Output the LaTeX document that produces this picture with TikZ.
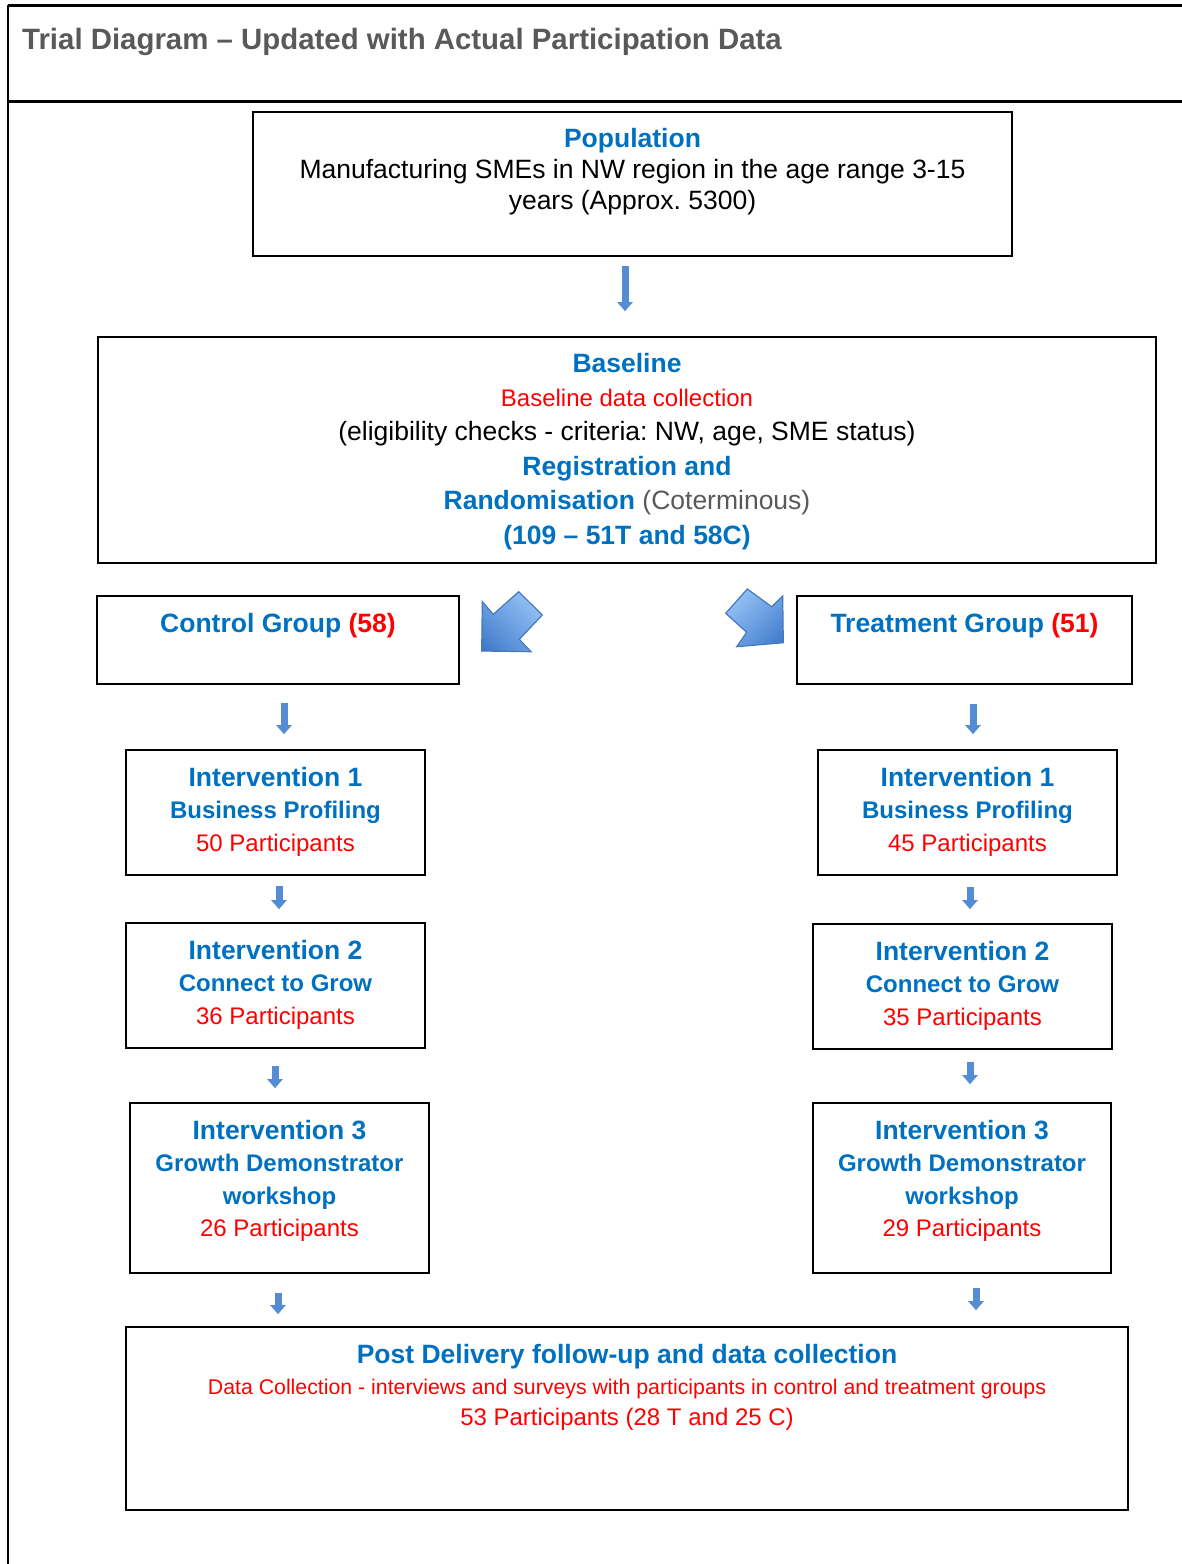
\documentclass[tikz,border=0pt]{standalone}
\usepackage{fontspec}
\setmainfont{Liberation Sans}
\usetikzlibrary{arrows.meta,positioning,shadings}
\frenchspacing
\definecolor{tblue}{RGB}{0,112,192}
\definecolor{tred}{RGB}{255,0,0}
\definecolor{tgray}{RGB}{89,89,89}
\definecolor{arrblue}{RGB}{84,141,212}
\definecolor{arrline}{RGB}{70,120,190}
\definecolor{arrlight}{RGB}{165,204,250}
\definecolor{arrmid}{RGB}{112,165,230}
\definecolor{arrdark}{RGB}{58,118,198}
\newcommand{\bluebf}[1]{{\bfseries\color{tblue}#1}}
\newcommand{\bluesub}[1]{{\fontsize{24}{24}\selectfont\bfseries\color{tblue}#1}}
\newcommand{\redtxt}[1]{{\fontsize{24}{24}\selectfont\color{tred}#1}}
\newcommand{\redsmall}[1]{{\fontsize{21.3}{21.3}\selectfont\color{tred}#1}}
\tikzset{
  box/.style={draw,line width=1.6pt,inner sep=0pt},
  boxtxt/.style={align=center,inner sep=0pt,font=\fontsize{26.5}{32.5}\selectfont},
  sarr/.style={draw=arrblue,line width=7pt,-{Triangle[width=15pt,length=9pt]}},
  bigarr/.style={draw=arrline,line width=1.2pt},
}
\begin{document}
\begin{tikzpicture}[x=1pt,y=-1pt]
  \useasboundingbox (0,0) rectangle (1182,1564);

  % frame and header
  \draw[line width=3pt] (8,5) -- (1182,5);
  \draw[line width=3pt] (8,101) -- (1182,101);
  \draw[line width=2.5pt] (8,5) -- (8,1564);
  \node[anchor=base west,inner sep=0pt,text=tgray,font=\fontsize{29.4}{34}\selectfont\bfseries] (title) at (22,49.5)
    {Trial Diagram \textendash{} Updated with Actual Participation Data};

  % population
  \node[box,minimum width=759pt,minimum height=144pt] (pop) at (632.5,184) {};
  \node[boxtxt,font=\fontsize{26.5}{31}\selectfont,below=16.5pt of pop.north] (popT)
    {\bluebf{Population}\\Manufacturing SMEs in NW region in the age range 3-15\\years (Approx. 5300)};

  % baseline
  \node[box,minimum width=1058pt,minimum height=226pt] (base) at (627,450) {};
  \node[boxtxt,font=\fontsize{26.5}{34.4}\selectfont,below=16.5pt of base.north] (baseT)
    {\bluebf{Baseline}\\\redtxt{Baseline data collection}\\(eligibility checks - criteria: NW, age, SME status)\\
     \bluebf{Registration and}\\\bluebf{Randomisation} {\color{tgray}(Coterminous)}\\\bluebf{(109 \textendash{} 51T and 58C)}};

  % groups
  \node[box,minimum width=362pt,minimum height=88pt] (ctl) at (278,640) {};
  \node[boxtxt,below=17.5pt of ctl.north] (ctlT) {\bluebf{Control Group} {\bfseries\color{tred}(58)}};
  \node[box,minimum width=335pt,minimum height=88pt] (trt) at (964.5,640) {};
  \node[boxtxt,below=17.5pt of trt.north] (trtT) {\bluebf{Treatment Group} {\bfseries\color{tred}(51)}};

  % split arrows
  \shadedraw[bigarr,upper right=arrlight,lower left=arrdark,upper left=arrmid,lower right=arrmid]
    (481.7,651) -- (482.3,601.7) -- (493.3,614.3) -- (518.7,591.7) -- (542.3,615)
    -- (519.3,639.3) -- (531,651.7) -- cycle;
  \shadedraw[bigarr,upper left=arrlight,lower right=arrdark,upper right=arrmid,lower left=arrmid]
    (783.3,642.7) -- (736.7,646.7) -- (746.7,632.3) -- (725.7,613.3) -- (747.3,589)
    -- (771.7,606.7) -- (782.7,596) -- cycle;

  % intervention 1
  \node[box,minimum width=299pt,minimum height=125pt] (ic1) at (275.5,812.5) {};
  \node[boxtxt,below=17.5pt of ic1.north] (ic1T)
    {\bluebf{Intervention 1}\\\bluesub{Business Profiling}\\\redtxt{50 Participants}};
  \node[box,minimum width=299pt,minimum height=125pt] (it1) at (967.5,812.5) {};
  \node[boxtxt,below=17.5pt of it1.north] (it1T)
    {\bluebf{Intervention 1}\\\bluesub{Business Profiling}\\\redtxt{45 Participants}};

  % intervention 2
  \node[box,minimum width=299pt,minimum height=125pt] (ic2) at (275.5,985.5) {};
  \node[boxtxt,below=17.5pt of ic2.north] (ic2T)
    {\bluebf{Intervention 2}\\\bluesub{Connect to Grow}\\\redtxt{36 Participants}};
  \node[box,minimum width=299pt,minimum height=125pt] (it2) at (962.5,986.5) {};
  \node[boxtxt,below=17.5pt of it2.north] (it2T)
    {\bluebf{Intervention 2}\\\bluesub{Connect to Grow}\\\redtxt{35 Participants}};

  % intervention 3
  \node[box,minimum width=299pt,minimum height=170pt] (ic3) at (279.5,1188) {};
  \node[boxtxt,below=17.5pt of ic3.north] (ic3T)
    {\bluebf{Intervention 3}\\\bluesub{Growth Demonstrator}\\\bluesub{workshop}\\\redtxt{26 Participants}};
  \node[box,minimum width=298pt,minimum height=170pt] (it3) at (962,1188) {};
  \node[boxtxt,below=17.5pt of it3.north] (it3T)
    {\bluebf{Intervention 3}\\\bluesub{Growth Demonstrator}\\\bluesub{workshop}\\\redtxt{29 Participants}};

  % follow-up
  \node[box,minimum width=1002pt,minimum height=183pt] (post) at (627,1418.5) {};
  \node[boxtxt,font=\fontsize{26.5}{31}\selectfont,below=17.5pt of post.north] (postT)
    {\bluebf{Post Delivery follow-up and data collection}\\
     \redsmall{Data Collection - interviews and surveys with participants in control and treatment groups}\\
     \redtxt{53 Participants (28 T and 25 C)}};

  % small arrows
  \draw[sarr] ([xshift=-7.5pt,yshift=-9pt]pop.south) -- ([xshift=-2pt,yshift=25pt]base.north);
  \draw[sarr] ([xshift=6pt,yshift=-18pt]ctl.south) -- ([xshift=8.5pt,yshift=15pt]ic1.north);
  \draw[sarr] ([xshift=8.5pt,yshift=-19pt]trt.south) -- ([xshift=5.5pt,yshift=15pt]it1.north);
  \draw[sarr] ([xshift=3.5pt,yshift=-10pt]ic1.south) -- ([xshift=3.5pt,yshift=13pt]ic2.north);
  \draw[sarr] ([xshift=2.5pt,yshift=-11pt]it1.south) -- ([xshift=7.5pt,yshift=14pt]it2.north);
  \draw[sarr] ([xshift=-0.5pt,yshift=-17pt]ic2.south) -- ([xshift=-4.5pt,yshift=14pt]ic3.north);
  \draw[sarr] ([xshift=7.5pt,yshift=-12pt]it2.south) -- ([xshift=8pt,yshift=18pt]it3.north);
  \draw[sarr] ([xshift=-1.5pt,yshift=-19pt]ic3.south) -- ([xshift=-349pt,yshift=12pt]post.north);
  \draw[sarr] ([xshift=14pt,yshift=-14pt]it3.south) -- ([xshift=349pt,yshift=16pt]post.north);
\end{tikzpicture}
\end{document}
